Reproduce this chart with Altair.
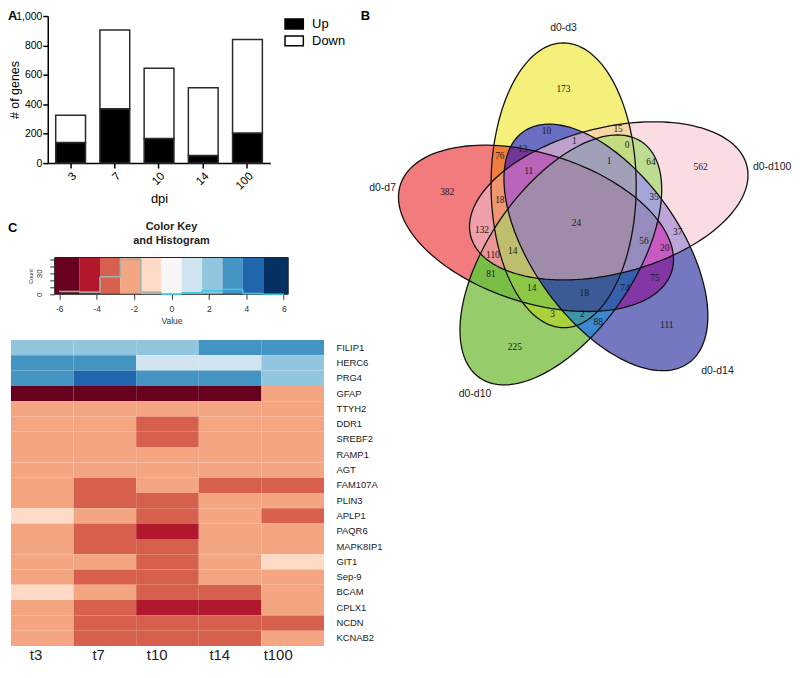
import altair as alt
import numpy as np
import pandas as pd

# ---------------- Panel A data ----------------
dpi_labels = ["3", "7", "10", "14", "100"]
up_genes = [140, 370, 167, 52, 205]
down_genes = [185, 535, 478, 461, 635]

# ---------------- Panel B data ----------------
set_names = ["d0-d3", "d0-d100", "d0-d14", "d0-d10", "d0-d7"]
set_codes = ["Y", "P", "B", "G", "R"]          # one letter per set, same order
region_counts = [173, 10, 15, 13, 1, 0, 76, 1, 64, 562, 11, 382, 18, 35, 24,
                 132, 37, 56, 20, 110, 14, 81, 75, 14, 18, 74, 3, 2, 88, 111, 225]
region_sets = ["Y", "YB", "YP", "YRB", "YPB", "YPG", "YR", "YPBG", "PG", "P", "YRPB", "R",
               "RYP", "PBG", "YPBGR", "RP", "PB", "PBGR", "PBR", "GRP", "GRYP", "GR", "BR",
               "GRY", "BGRY", "BGR", "GY", "BGY", "BG", "B", "G"]
region_x = [567, 550, 622, 526, 578, 631, 503, 613, 655, 705, 532, 450, 503, 658, 580,
            485, 682, 648, 669, 496, 516, 494, 659, 535, 588, 629, 556, 586, 602, 671, 518]
region_y = [85, 128, 126, 146, 138, 142, 153, 158, 159, 164, 168, 189, 197, 194, 220,
            227, 229, 238, 245, 253, 248, 272, 276, 286, 291, 286, 312, 312, 320, 323, 345]
region_color = ["#f5f07a", "#696ec3", "#fad7a0", "#73379a", "#bea0cd", "#c3dc82",
                "#f07d3c", "#a0a0b9", "#bedc91", "#fcdce3", "#b964b9", "#f27b7d",
                "#f0966e", "#a5a5d7", "#a08caa", "#f0a0aa", "#bea5d7", "#968cbe",
                "#c85ac3", "#eb9696", "#bebe6e", "#78be46", "#8237a5", "#8cc846",
                "#3c5a96", "#375faf", "#aad23c", "#3c96aa", "#3c87d2", "#7478c0", "#96cc6a"]

# ---------------- Panel C data ----------------
genes = ["FILIP1", "HERC6", "PRG4", "GFAP", "TTYH2", "DDR1", "SREBF2", "RAMP1", "AGT",
         "FAM107A", "PLIN3", "APLP1", "PAQR6", "MAPK8IP1", "GIT1", "Sep-9", "BCAM",
         "CPLX1", "NCDN", "KCNAB2"]
timepoints = ["t3", "t7", "t10", "t14", "t100"]
t3 = [2.2, 3.3, 3.3, -5.5, -2.2, -2.2, -2.2, -2.2, -2.2, -2.2, -2.2, -1.1, -2.2, -2.2, -2.2, -2.2, -1.1, -2.2, -2.2, -2.2]
t7 = [2.2, 3.3, 4.4, -5.5, -2.2, -2.2, -2.2, -2.2, -2.2, -3.3, -3.3, -2.2, -3.3, -3.3, -2.2, -3.3, -2.2, -3.3, -3.3, -3.3]
t10 = [2.2, 1.1, 3.3, -5.5, -2.2, -3.3, -3.3, -2.2, -2.2, -2.2, -3.3, -3.3, -4.4, -3.3, -3.3, -3.3, -3.3, -4.4, -3.3, -3.3]
t14 = [3.3, 1.1, 3.3, -5.5, -2.2, -2.2, -2.2, -2.2, -2.2, -3.3, -2.2, -2.2, -2.2, -2.2, -2.2, -2.2, -3.3, -4.4, -3.3, -3.3]
t100 = [3.3, 2.2, 2.2, -2.2, -2.2, -2.2, -2.2, -2.2, -2.2, -3.3, -2.2, -3.3, -2.2, -2.2, -1.1, -2.2, -2.2, -2.2, -3.3, -2.2]
rdbu = ["#67001f", "#b2182b", "#d6604d", "#f4a582", "#fddbc7", "#f7f7f7",
        "#d1e5f0", "#92c5de", "#4393c3", "#2166ac", "#053061"]

SANS = "Liberation Sans"
NARROW = "Liberation Sans Narrow, Liberation Sans"


def label(txt, x, y, size=13, weight="bold", align="left", baseline="top", color="black"):
    return alt.Chart(pd.DataFrame({"t": [txt]})).mark_text(
        align=align, baseline=baseline, fontSize=size, fontWeight=weight, font=SANS, color=color
    ).encode(text="t:N", x=alt.value(x), y=alt.value(y))


# ================= Panel A (plot origin shared with heatmap; bars start 37px in) =================
A_IN = 37
bar_df = pd.DataFrame({
    "dpi": dpi_labels * 2,
    "n": up_genes + down_genes,
    "dir": ["Up"] * 5 + ["Down"] * 5,
    "ord": [0] * 5 + [1] * 5,
})
bars = alt.Chart(bar_df).mark_bar(stroke="#2b2b2b", strokeWidth=1.5).encode(
    x=alt.X("dpi:N", sort=dpi_labels,
            scale=alt.Scale(range=[A_IN, A_IN + 224], paddingInner=0.326, paddingOuter=0.18),
            axis=alt.Axis(title="dpi", labelAngle=-45, tickSize=5, tickWidth=1.5,
                          domainWidth=1.5, domainColor="black", tickColor="black",
                          labelFont=NARROW, labelFontSize=11.5, labelColor="black",
                          titleFont=NARROW, titleFontSize=13, titleFontWeight="normal",
                          titleColor="black", labelPadding=2, titlePadding=1)),
    y=alt.Y("n:Q", stack="zero", scale=alt.Scale(domain=[0, 1000], nice=False),
            axis=alt.Axis(title="# of genes", values=[0, 200, 400, 600, 800, 1000],
                          grid=False, tickSize=5, tickWidth=1.5, domainWidth=1.5,
                          domainColor="black", tickColor="black", offset=-A_IN,
                          labelFont=NARROW, labelFontSize=10.5, labelColor="black",
                          titleFont=NARROW, titleFontSize=12.5, titleFontWeight="normal",
                          titleColor="black", labelPadding=1, titleX=-33, titleY=74,
                          titleBaseline="middle", titleAlign="center")),
    fill=alt.Fill("dir:N", scale=alt.Scale(domain=["Up", "Down"], range=["black", "white"]),
                  legend=alt.Legend(orient="none", legendX=239 + A_IN, legendY=-1, title=None,
                                    symbolType="M-1.15,-0.62H1.15V0.62H-1.15Z",
                                    symbolSize=256, symbolStrokeColor="black",
                                    symbolStrokeWidth=1.5, labelFont=NARROW,
                                    labelFontSize=13, labelColor="black",
                                    labelOffset=9, rowPadding=0)),
    order=alt.Order("ord:Q"),
)
chartA = alt.layer(bars, label("A", -3, -6)).properties(width=A_IN + 224, height=148)

# ================= Panel C: colour key (box starts 44px in) =================
K_IN, K_W = 44, 235
breaks = np.linspace(-6, 6, len(rdbu) + 1)
key_dom = [-6.24, 6.24]
cell_lo = list(breaks[:-1]); cell_lo[0] = key_dom[0]
cell_hi = list(breaks[1:]); cell_hi[-1] = key_dom[1]
cells_df = pd.DataFrame({"lo": cell_lo, "hi": cell_hi, "col": rdbu})

all_vals = np.array(t3 + t7 + t10 + t14 + t100)
counts, _ = np.histogram(all_vals, bins=breaks)
ymax = counts.max() / 0.95


def seg_col(v):
    return "#9fb3ab" if v < -0.5 else "#3cc6e4"


hseg = pd.DataFrame({
    "x0": breaks[:-1], "x1": breaks[1:], "cnt": counts,
    "c": [seg_col((breaks[k] + breaks[k + 1]) / 2) for k in range(len(counts))],
})
vseg = pd.DataFrame({
    "xb": breaks[1:-1], "c0": counts[:-1], "c1": counts[1:],
    "c": [seg_col(v) for v in breaks[1:-1]],
})

xscale_k = alt.Scale(domain=key_dom, range=[K_IN, K_IN + K_W], nice=False, zero=False)
xaxis_k = alt.Axis(values=[-6, -4, -2, 0, 2, 4, 6], title="Value",
                   labelExpr="datum.value < 0 ? '-' + abs(datum.value) : '' + datum.value",
                   tickSize=5, labelPadding=5, labelFontSize=8.5, titleFontSize=8.5,
                   titleFontWeight="normal", titlePadding=4, grid=False, domain=False,
                   tickColor="#333", labelColor="#333", titleColor="#333")
yscale_k = alt.Scale(domain=[0, float(ymax)], nice=False, zero=True)
yaxis_k = alt.Axis(values=[0, 10, 20, 30, 40, 50], title="Count", offset=-K_IN,
                   labelExpr="datum.value == 0 || datum.value == 30 ? datum.label : ''",
                   labelAngle=-90, tickSize=5, labelPadding=6, labelFontSize=8,
                   titleFontSize=5.5, titleFontWeight="normal", titlePadding=2,
                   grid=False, domain=False, tickColor="#333", labelColor="#333",
                   titleColor="#333")

key_cells = alt.Chart(cells_df).mark_rect().encode(
    x=alt.X("lo:Q", scale=xscale_k, axis=xaxis_k), x2="hi:Q",
    y=alt.value(0), y2=alt.value(37),
    fill=alt.Fill("col:N", scale=None),
)
key_box = alt.Chart(pd.DataFrame({"b": [0]})).mark_rect(
    fillOpacity=0, stroke="#222", strokeWidth=1).encode(
    x=alt.value(K_IN), x2=alt.value(K_IN + K_W), y=alt.value(0), y2=alt.value(37))
key_h = alt.Chart(hseg).mark_rule(strokeWidth=1.6).encode(
    x=alt.X("x0:Q", scale=xscale_k, axis=xaxis_k), x2="x1:Q",
    y=alt.Y("cnt:Q", scale=yscale_k, axis=yaxis_k),
    color=alt.Color("c:N", scale=None),
)
key_v = alt.Chart(vseg).mark_rule(strokeWidth=1.6).encode(
    x=alt.X("xb:Q", scale=xscale_k, axis=xaxis_k),
    y=alt.Y("c0:Q", scale=yscale_k, axis=yaxis_k), y2="c1:Q",
    color=alt.Color("c:N", scale=None),
)
chartKey = alt.layer(
    key_cells, key_box, key_h, key_v,
    label("Color Key", K_IN + K_W / 2, -31, size=11, align="center", baseline="middle", color="#222"),
    label("and Histogram", K_IN + K_W / 2, -17, size=11, align="center", baseline="middle", color="#222"),
    label("C", -3, -36),
).properties(width=K_IN + K_W, height=37)

# ================= Panel C: heatmap =================
cols = [t3, t7, t10, t14, t100]
heat_df = pd.DataFrame({
    "gene": genes * len(timepoints),
    "time": [t for t in timepoints for _ in genes],
    "value": [v for c in cols for v in c],
})
heat = alt.Chart(heat_df).mark_rect().encode(
    x=alt.X("time:N", sort=timepoints, scale=alt.Scale(paddingInner=0, paddingOuter=0),
            axis=alt.Axis(title=None, labelAngle=0, labelAlign="right", labelFontSize=15,
                          labelPadding=2, ticks=False, domain=False, labelColor="#222")),
    y=alt.Y("gene:N", sort=genes, scale=alt.Scale(paddingInner=0, paddingOuter=0),
            axis=alt.Axis(orient="right", title=None, ticks=False, domain=False,
                          labelPadding=12, labelFontSize=9.5, labelColor="#222")),
    fill=alt.Fill("value:Q", scale=alt.Scale(type="quantize", domain=[-6, 6], range=rdbu,
                                            nice=False, zero=False), legend=None),
).properties(width=315, height=308)

# ================= Panel B: Venn =================
# initial ellipse geometry: centre x, centre y, angle, semi-axes
ell_init = np.array([
    [567.0, 182.0, -90.0, 143.0, 73.0],   # d0-d3
    [613.0, 198.0, -14.0, 143.0, 73.0],   # d0-d100
    [608.0, 246.0, 54.0, 143.0, 73.0],    # d0-d14
    [562.0, 256.0, 123.5, 144.0, 72.0],   # d0-d10
    [538.0, 232.0, 198.0, 143.0, 73.0],   # d0-d7
])
VX0, VY0 = 360, 12

LX = np.array(region_x, float)
LY = np.array(region_y, float)
MEM = np.array([[1 if set_codes[k] in s else 0 for k in range(5)] for s in region_sets])


def ell_r(p, x, y):
    cx, cy, ang, a, b = p
    th = np.deg2rad(ang)
    dx, dy = x - cx, y - cy
    u = dx * np.cos(th) + dy * np.sin(th)
    v = -dx * np.sin(th) + dy * np.cos(th)
    return np.sqrt((u / a) ** 2 + (v / b) ** 2)


reg_scale = np.array([3.0, 3.0, 2.0, 3.0, 3.0])


def fit_loss(P):
    L = 0.0
    for k in range(5):
        r = ell_r(P[k], LX, LY)
        ins = MEM[:, k] == 1
        L += np.sum(np.maximum(0, r[ins] - 0.93) ** 2) + np.sum(np.maximum(0, 1.07 - r[~ins]) ** 2)
    return L + 0.0018 * np.sum(((P - ell_init) / reg_scale) ** 2)


# deterministic coordinate search so each count sits inside its own region
P = ell_init.copy()
step = np.array([3.0, 3.0, 2.0, 3.0, 2.0])
best = fit_loss(P)
for _ in range(10):
    improved = True
    while improved:
        improved = False
        for k in range(5):
            for j in range(5):
                for sgn in (1, -1):
                    Q = P.copy()
                    Q[k, j] += sgn * step[j]
                    lq = fit_loss(Q)
                    if lq < best - 1e-12:
                        P, best, improved = Q, lq, True
    step = step / 2

tt = np.linspace(0, 2 * np.pi, 150, endpoint=False)
ell_pts = []
for k in range(5):
    cx, cy, ang, a, b = P[k]
    th = np.deg2rad(ang)
    ex = cx + a * np.cos(tt) * np.cos(th) - b * np.sin(tt) * np.sin(th)
    ey = cy + a * np.cos(tt) * np.sin(th) + b * np.sin(tt) * np.cos(th)
    pts = np.column_stack([ex, ey])
    area = np.sum(pts[:, 0] * np.roll(pts[:, 1], -1) - np.roll(pts[:, 0], -1) * pts[:, 1])
    if area < 0:
        pts = pts[::-1]
    ell_pts.append([(float(p[0]), float(p[1])) for p in pts])


def clip_poly(subj, clipper):
    out = list(subj)
    m = len(clipper)
    for i in range(m):
        ax, ay = clipper[i]
        bx, by = clipper[(i + 1) % m]
        exx, eyy = bx - ax, by - ay
        inp, out = out, []
        if not inp:
            return []
        sx, sy = inp[-1]
        ds = exx * (sy - ay) - eyy * (sx - ax)
        for (px, py) in inp:
            dp = exx * (py - ay) - eyy * (px - ax)
            if (dp >= 0) != (ds >= 0):
                t = ds / (ds - dp)
                out.append((sx + t * (px - sx), sy + t * (py - sy)))
            if dp >= 0:
                out.append((px, py))
            sx, sy, ds = px, py, dp
    return out


mask_color = {}
for s, c in zip(region_sets, region_color):
    mask_color[sum(1 << set_codes.index(ch) for ch in s)] = c

inter_cache = {}
features = []
masks = sorted(range(1, 32), key=lambda m: (bin(m).count("1"), m))
for m in masks:
    ks = [k for k in range(5) if m >> k & 1]
    if len(ks) == 1:
        poly = ell_pts[ks[0]]
    else:
        poly = clip_poly(inter_cache[m & ~(1 << ks[-1])], ell_pts[ks[-1]])
    inter_cache[m] = poly
    if len(poly) < 3:
        continue
    ring = [[p[0], p[1]] for p in poly] + [[poly[0][0], poly[0][1]]]
    features.append({"type": "Feature", "properties": {"fill": mask_color.get(m, "#a89cb4")},
                     "geometry": {"type": "Polygon", "coordinates": [ring]}})

outline_feats = [{"type": "Feature", "properties": {"name": set_names[k]},
                  "geometry": {"type": "Polygon",
                               "coordinates": [[list(p) for p in ell_pts[k]] + [list(ell_pts[k][0])]]}}
                 for k in range(5)]

proj = dict(type="identity", scale=1, translate=[-VX0, -VY0])
venn_fill = alt.Chart(alt.Data(values=features)).mark_geoshape(
    strokeOpacity=0, fillOpacity=1, clip=False).encode(
    fill=alt.Fill("properties.fill:N", scale=None)).project(**proj)
venn_line = alt.Chart(alt.Data(values=outline_feats)).mark_geoshape(
    fillOpacity=0, stroke="#111", strokeWidth=1.3, clip=False).project(**proj)

vx = alt.Scale(domain=[VX0, 790], range=[0, 790 - VX0], nice=False, zero=False)
vy = alt.Scale(domain=[VY0, 472], range=[0, 472 - VY0], nice=False, zero=False)
reg_df = pd.DataFrame({"x": region_x, "y": region_y, "n": [str(v) for v in region_counts]})
venn_nums = alt.Chart(reg_df).mark_text(font="Liberation Serif", fontSize=9.5, color="#1a1a1a").encode(
    x=alt.X("x:Q", scale=vx, axis=None), y=alt.Y("y:Q", scale=vy, axis=None), text="n:N")
setlab_df = pd.DataFrame({"name": set_names, "x": [567, 777, 722, 478, 385],
                          "y": [24, 164, 369, 392, 185]})
venn_sets = alt.Chart(setlab_df).mark_text(font=SANS, fontSize=10.5, color="#222").encode(
    x=alt.X("x:Q", scale=vx, axis=None), y=alt.Y("y:Q", scale=vy, axis=None), text="name:N")
venn = alt.layer(venn_fill, venn_line, venn_nums, venn_sets,
                 label("B", 363 - VX0, 6 - VY0)).properties(width=790 - VX0, height=197)

placeholder = alt.Chart(pd.DataFrame({"s": [0]})).mark_point(opacity=0).encode(
    x=alt.value(0), y=alt.value(0)).properties(width=1, height=1)

# ================= Layout: flat 2-column grid, flush bounds =================
chart = alt.concat(
    chartA, venn, chartKey, placeholder, heat,
    columns=2, align="none", bounds="flush",
    spacing=alt.RowColnumber(row=46, column=34),
).properties(padding=0).configure_view(strokeWidth=0).configure_axis(
    labelFont=SANS, titleFont=SANS)

chart.save("out.html", embed_options={"renderer": "svg", "actions": False})
